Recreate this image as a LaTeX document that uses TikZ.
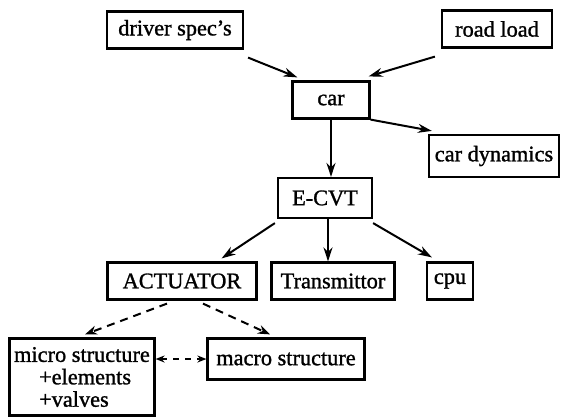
\documentclass[tikz,border=0pt]{standalone}
\usepackage{fontspec}
\setmainfont[FakeBold=1.2]{Liberation Serif}
\usetikzlibrary{arrows.meta, calc}
\tikzset{
  blockbox/.style={
    draw, line width=2.2bp, inner sep=0pt,
    minimum height=37bp, align=center,
    font=\fontsize{22.4}{22.5}\selectfont,
  },
  arw/.style={-{Stealth[length=14bp, width=9bp]}, line width=2bp},
  darw/.style={-{Stealth[open, length=12bp, width=9bp]}, line width=2bp,
    dash pattern=on 8bp off 6bp},
  link/.style={{Stealth[open, length=9bp, width=7bp]}-{Stealth[open, length=9bp, width=7bp]},
    line width=1.8bp, dash pattern=on 6bp off 6bp},
}

\begin{document}
\begin{tikzpicture}[x=1bp, y=-1bp]
  \useasboundingbox (0,0) rectangle (561,417);

  % Blocks
  \node[blockbox, minimum width=136bp] (drv) at (175,30) {driver spec's};
  \node[blockbox, minimum width=110bp] (road) at (497,29) {road load};
  \node[blockbox, minimum width=77bp] (car) at (331,100) {car};
  \node[blockbox, minimum width=130bp, minimum height=42bp] (cardyn) at (494,156) {car dynamics};
  \node[blockbox, minimum width=94bp, minimum height=40bp] (ecvt) at (325,198) {E-CVT};
  \node[blockbox, minimum width=149bp] (act) at (182,281) {ACTUATOR};
  \node[blockbox, minimum width=123bp] (trans) at (333,281) {Transmittor};
  \node[blockbox, minimum width=46bp] (cpu) at (450,281) {cpu};
  \node[blockbox, minimum width=145bp, minimum height=77bp, align=left] (micro) at (82,377)
    {micro structure\\\hspace*{25bp}+elements\\\hspace*{25bp}+valves};
  \node[blockbox, minimum width=157bp, minimum height=41bp] (macro) at (286,359) {macro structure};

  % Arrows
  \draw[arw] ($(drv.south east)+(4,8)$) -- ($(car.north west)+(6,-3)$);
  \draw[arw] ($(road.south west)+(-6,8)$) -- ($(car.north east)+(-2,-4)$);
  \draw[arw] (car.south east) -- ($(cardyn.north west)+(4,-3)$);
  \draw[arw] (car.south) -- (car.south |- ecvt.north);
  \draw[arw] ($(ecvt.south west)+(-2,4)$) -- ($(act.north east)+(-36,-3)$);
  \draw[arw] ($(ecvt.south)+(3,0)$) -- ($(ecvt.south |- trans.north)+(3,0)$);
  \draw[arw] ($(ecvt.south east)+(0,4)$) -- ($(cpu.north west)+(6,-4)$);

  % Dashed links below the actuator
  \draw[darw] ($(act.south)+(-15,3)$) -- ($(micro.north)+(3,-3)$);
  \draw[darw] ($(act.south)+(21,3)$) -- ($(macro.north)+(-16,-3)$);
  \draw[link] (micro.east |- macro.west) -- (macro.west);

\end{tikzpicture}
\end{document}
